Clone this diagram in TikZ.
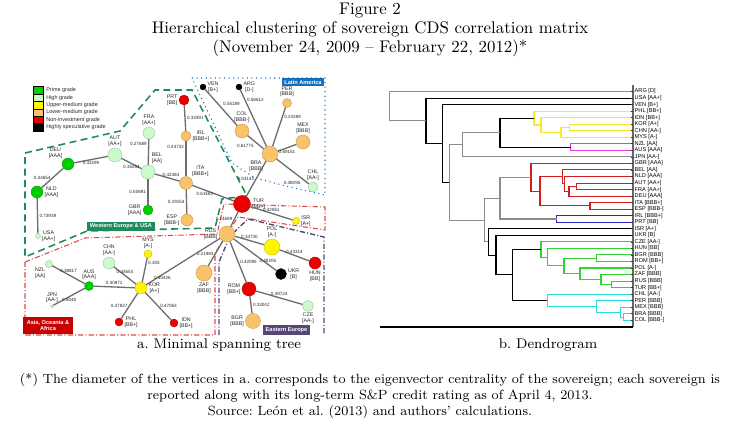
\documentclass[tikz,border=0pt]{standalone}
\usepackage{fontspec}
\setsansfont{Liberation Sans}
\usepackage{tikz}
\usetikzlibrary{positioning}
\frenchspacing

\definecolor{primeg}{RGB}{0,205,0}
\definecolor{highg}{RGB}{205,250,205}
\definecolor{upperg}{RGB}{255,245,0}
\definecolor{lowerg}{RGB}{250,195,105}
\definecolor{noninv}{RGB}{235,0,0}
\definecolor{specg}{RGB}{0,0,0}
\definecolor{edgegray}{RGB}{110,110,110}
\definecolor{weframe}{RGB}{30,140,90}
\definecolor{lablue}{RGB}{20,110,190}
\definecolor{aoared}{RGB}{200,0,0}
\definecolor{eepurple}{RGB}{85,70,120}
\definecolor{dgray}{RGB}{140,140,140}
\definecolor{dyel}{RGB}{245,235,40}
\definecolor{dmag}{RGB}{225,60,225}
\definecolor{dred}{RGB}{210,30,30}
\definecolor{dblue}{RGB}{40,40,190}
\definecolor{dgreen}{RGB}{50,210,50}
\definecolor{dcyan}{RGB}{40,220,220}

% name over rating
\newcommand{\cds}[2]{#1\\\relax[#2]}

\tikzset{
  vtx/.style 2 args={circle, inner sep=0pt, fill=#1, draw=#1!75!black, line width=0.2pt, minimum size=#2*0.2mm},
  nlbl/.style={font=\sffamily\fontsize{3}{3.3}\selectfont, align=center, inner sep=0.6pt, text=black!85},
  elab/.style={font=\sffamily\fontsize{2.6}{3}\selectfont, inner sep=0.8pt, text=black!85},
  edg/.style={draw=edgegray, line width=0.75pt},
  regbox/.style={font=\sffamily\bfseries\fontsize{3.2}{3.6}\selectfont, text=white, inner sep=0pt, align=center},
  legsq/.style={draw=black, line width=0.2pt, minimum width=2mm, minimum height=1.48mm, inner sep=0pt},
  legtx/.style={font=\sffamily\fontsize{3.1}{3.5}\selectfont, inner sep=0pt, text=black!85},
  dlin/.style={line width=0.6pt},
  leaf/.style={font=\sffamily\fontsize{3.2}{3.5}\selectfont, anchor=west, inner sep=0.5pt},
  ttl/.style={font=\fontsize{9.6}{11.5}\selectfont},
  note/.style={font=\fontsize{7.6}{9.5}\selectfont}
}

\begin{document}
\begin{tikzpicture}[x=0.02cm, y=-0.02cm]
\useasboundingbox (0,0) rectangle (740,444);

% titles
\node[ttl] (fig) at (370,10) {Figure 2};
\node[ttl] (t1) at (370,29) {Hierarchical clustering of sovereign CDS correlation matrix};
\node[ttl] (t2) at (370,48) {(November 24, 2009 -- February 22, 2012)*};

% regions
\draw[weframe, line width=0.9pt, dash pattern=on 4pt off 2.5pt]
  (25,153) -- (120,131) -- (155,90) -- (192,90) -- (247,196) -- (222,199)
  -- (215,228) -- (87,231) -- (25,257) -- cycle;
\draw[lablue, line width=0.6pt, dotted]
  (192,78) -- (325,78) -- (325,195) -- (290,187) -- (255,178) -- (232,163) -- cycle;
\draw[aoared!70, line width=0.6pt, dash pattern=on 3pt off 1.2pt on 0.6pt off 1.2pt]
  (25,262) -- (85,238) -- (217,234) -- (224,204) -- (325,207) -- (325,230)
  -- (238,217) -- (215,253) -- (215,335) -- (25,335) -- cycle;
\draw[eepurple, line width=0.8pt, dash pattern=on 3pt off 1.2pt on 0.6pt off 1.2pt]
  (219,335) -- (219,262) -- (230,236) -- (248,219) -- (324,237) -- (324,335);

% legend
\foreach \c/\t [count=\i] in {primeg/Prime grade, highg/High grade, upperg/Upper-medium grade,
    lowerg/Lower-medium grade, noninv/Non-investment grade, specg/Highly speculative grade}{
  \node[legsq, fill=\c] (sq\i) at (38,82.8+7.4*\i) {};
  \node[legtx, anchor=west] (lt\i) at (46,82.8+7.4*\i) {\t};
}

% vertices
\node[vtx={noninv}{10}, label={[nlbl]left:{\cds{PRT}{BB}}}] (PRT) at (184,100) {};
\node[vtx={lowerg}{10}, label={[nlbl]right:{\cds{IRL}{BBB+}}}] (IRL) at (186,136) {};
\node[vtx={highg}{12}, label={[nlbl]above:{\cds{FRA}{AA+}}}] (FRA) at (149,133) {};
\node[vtx={highg}{14}, label={[nlbl]above:{\cds{AUT}{AA+}}}] (AUT) at (115,155) {};
\node[vtx={primeg}{12}, label={[nlbl]above left:{\cds{DEU}{AAA}}}] (DEU) at (68,164) {};
\node[vtx={primeg}{12}, label={[nlbl]right:{\cds{NLD}{AAA}}}] (NLD) at (37,192) {};
\node[vtx={highg}{5}, label={[nlbl]right:{\cds{USA}{AA+}}}] (USA) at (38,236) {};
\node[vtx={highg}{14}, label={[nlbl]70:{\cds{BEL}{AA}}}] (BEL) at (148,172) {};
\node[vtx={primeg}{10}, label={[nlbl]left:{\cds{GBR}{AAA}}}] (GBR) at (148,210) {};
\node[vtx={lowerg}{13}, label={[nlbl]above right:{\cds{ITA}{BBB+}}}] (ITA) at (186,183) {};
\node[vtx={lowerg}{12}, label={[nlbl]left:{\cds{ESP}{BBB-}}}] (ESP) at (187,220) {};

\node[vtx={specg}{6}, label={[nlbl]right:{\cds{VEN}{B+}}}] (VEN) at (203,87) {};
\node[vtx={specg}{6}, label={[nlbl]right:{\cds{ARG}{D-}}}] (ARG) at (239,87) {};
\node[vtx={lowerg}{9}, label={[nlbl]above:{\cds{PER}{BBB}}}] (PER) at (287,103) {};
\node[vtx={lowerg}{14}, label={[nlbl]above:{\cds{COL}{BBB-}}}] (COL) at (242,131) {};
\node[vtx={lowerg}{14}, label={[nlbl]above:{\cds{MEX}{BBB}}}] (MEX) at (303,142) {};
\node[vtx={lowerg}{16}, label={[nlbl]below left:{\cds{BRA}{BBB}}}] (BRA) at (270,154) {};
\node[vtx={highg}{10}, label={[nlbl]above:{\cds{CHL}{AA-}}}] (CHL) at (313,187) {};

\node[vtx={noninv}{17}, label={[nlbl]right:{\cds{TUR}{BB+}}}] (TUR) at (242,204) {};
\node[vtx={upperg}{7}, label={[nlbl]right:{\cds{ISR}{A+}}}] (ISR) at (296,221) {};
\node[vtx={lowerg}{16}, label={[nlbl]left:{\cds{RUS}{BBB}}}] (RUS) at (227,234) {};
\node[vtx={upperg}{16}, label={[nlbl]above:{\cds{POL}{A-}}}] (POL) at (272,247) {};
\node[vtx={noninv}{12}, label={[nlbl]below:{\cds{HUN}{BB}}}] (HUN) at (315,263) {};
\node[vtx={specg}{11}, label={[nlbl]right:{\cds{UKR}{B}}}] (UKR) at (281,274) {};
\node[vtx={lowerg}{16}, label={[nlbl]below:{\cds{ZAF}{BBB}}}] (ZAF) at (204,273) {};
\node[vtx={noninv}{14}, label={[nlbl]left:{\cds{ROM}{BB+}}}] (ROM) at (249,289) {};
\node[vtx={lowerg}{15}, label={[nlbl]left:{\cds{BGR}{BBB}}}] (BGR) at (253,321) {};
\node[vtx={highg}{11}, label={[nlbl]below:{\cds{CZE}{AA-}}}] (CZE) at (308,306) {};

\node[vtx={highg}{7}, label={[nlbl]below left:{\cds{NZL}{AA}}}] (NZL) at (49,264) {};
\node[vtx={primeg}{9}, label={[nlbl]above:{\cds{AUS}{AAA}}}] (AUS) at (89,286) {};
\node[vtx={highg}{3}, label={[nlbl]above:{\cds{JPN}{AA-}}}] (JPN) at (52,306) {};
\node[vtx={highg}{12}, label={[nlbl]above:{\cds{CHN}{AA-}}}] (CHN) at (109,263) {};
\node[vtx={upperg}{8}, label={[nlbl]above:{\cds{MYS}{A-}}}] (MYS) at (148,254) {};
\node[vtx={upperg}{12}, label={[nlbl]right:{\cds{KOR}{A+}}}] (KOR) at (141,288) {};
\node[vtx={noninv}{8}, label={[nlbl]right:{\cds{PHL}{BB+}}}] (PHL) at (119,322) {};
\node[vtx={noninv}{8}, label={[nlbl]right:{\cds{IDN}{BB+}}}] (IDN) at (174,323) {};

% edges
\draw[edg] (PRT) -- node[elab,right] {0.33391} (IRL);
\draw[edg] (IRL) -- node[elab,pos=0.17,left] {0.44732} (ITA);
\draw[edg] (FRA) -- node[elab,pos=0.2,left] {0.27689} (BEL);
\draw[edg] (AUT) -- node[elab,below] {0.35254} (BEL);
\draw[edg] (DEU) -- node[elab,below] {0.43299} (AUT);
\draw[edg] (DEU) -- node[elab,left] {0.44654} (NLD);
\draw[edg] (NLD) -- node[elab,right] {0.73939} (USA);
\draw[edg] (BEL) -- node[elab,left] {0.50691} (GBR);
\draw[edg] (BEL) -- node[elab,pos=0.65,above] {0.42384} (ITA);
\draw[edg] (ITA) -- node[elab,left] {0.29154} (ESP);
\draw[edg] (ITA) -- node[elab,pos=0.3,below] {0.61163} (TUR);
\draw[edg] (TUR) -- node[elab,left] {0.53142} (BRA);
\draw[edg] (BRA) -- node[elab,below left] {0.61775} (COL);
\draw[edg] (COL) -- node[elab,above right] {0.55189} (VEN);
\draw[edg] (BRA) -- node[elab,pos=0.82,right] {0.58612} (ARG);
\draw[edg] (BRA) -- node[elab,pos=0.75,right] {0.24389} (PER);
\draw[edg] (BRA) -- node[elab,below] {0.69151} (MEX);
\draw[edg] (BRA) -- node[elab,pos=0.8,below left] {0.48095} (CHL);
\draw[edg] (TUR) -- node[elab,above] {0.42851} (ISR);
\draw[edg] (TUR) -- node[elab,left] {0.14699} (RUS);
\draw[edg] (RUS) -- node[elab,above] {0.34730} (POL);
\draw[edg] (POL) -- node[elab,above] {0.43314} (HUN);
\draw[edg] (RUS) -- node[elab,pos=0.8,above] {0.48205} (UKR);
\draw[edg] (RUS) -- node[elab,right] {0.42095} (ROM);
\draw[edg] (ROM) -- node[elab,above] {0.49724} (CZE);
\draw[edg] (ROM) -- node[elab,right] {0.33042} (BGR);
\draw[edg] (RUS) -- node[elab,left] {0.21983} (ZAF);
\draw[edg] (RUS) -- node[elab,pos=0.78,below] {0.40426} (KOR);
\draw[edg] (KOR) -- node[elab,pos=0.8,right] {0.305} (MYS);
\draw[edg] (KOR) -- node[elab,above] {0.34653} (CHN);
\draw[edg] (KOR) -- node[elab,above] {0.40871} (AUS);
\draw[edg] (AUS) -- node[elab,above] {0.38817} (NZL);
\draw[edg] (AUS) -- node[elab,below] {0.8048} (JPN);
\draw[edg] (KOR) -- node[elab,left] {0.47827} (PHL);
\draw[edg] (KOR) -- node[elab,right] {0.47063} (IDN);

% region labels
\node[regbox, fill=lablue, minimum width=0.84cm, minimum height=0.17cm] (latam) at (303,82) {Latin America};
\node[regbox, fill=weframe, minimum width=1.36cm, minimum height=0.19cm] (weusa) at (121,226.5) {Western Europe \& USA};
\node[regbox, fill=aoared, minimum width=1cm, minimum height=0.34cm] (aoa) at (48,325.5) {Asia, Oceania \&\\Africa};
\node[regbox, fill=eepurple, minimum width=0.94cm, minimum height=0.2cm] (eeur) at (286.5,330) {Eastern Europe};

% dendrogram
\foreach \c/\xa/\ya/\xm/\xb/\yb in {
  dyel/633/124.19/569.3/633/130.72, dyel/569.3/127.46/561/633/137.26,
  dyel/633/117.65/541/561/132.36, dyel/633/111.11/534/541/125.0,
  dmag/633/143.80/570.7/633/150.33, black/534/118.06/500/570.7/147.07,
  dgray/500/132.56/462.3/633/156.87,
  dred/633/183.02/576.7/633/189.56, dred/576.7/186.29/569/633/196.09,
  dred/633/176.48/564.3/569/191.19, dred/633/169.94/562.7/564.3/183.84,
  dred/633/202.63/590/633/209.17, dred/562.7/176.89/540/590/205.9,
  dred/633/163.41/531/540/191.40,
  dblue/633/215.70/556.7/633/222.24, dgray/531/177.40/500/556.7/218.97,
  dgreen/633/281.07/611.7/633/287.61, dgreen/611.7/284.34/601/633/274.54,
  dgreen/633/268.00/580/601/279.44, dgreen/633/254.93/596.7/633/261.46,
  dgreen/596.7/258.20/564/580/273.72, dgreen/633/248.39/547.3/564/265.96,
  dgreen/633/241.85/541/547.3/257.18,
  dcyan/633/313.76/623.3/633/320.30, dcyan/633/307.22/620.7/623.3/317.03,
  dcyan/633/300.69/596.7/620.7/312.13, dcyan/633/294.15/547.3/596.7/306.41,
  black/541/249.52/512.3/547.3/300.28, black/633/235.31/496/512.3/274.90,
  black/633/228.78/488.3/496/255.11, dgray/500/198.19/484.3/488.3/241.95,
  dgray/462.3/144.72/449.3/484.3/220.07, black/633/104.57/442.3/449.3/182.40,
  black/633/98.04/426/442.3/143.49, dgray/633/91.5/389.3/426/120.77}{
  \draw[dlin, \c] (\xa,\ya) -| (\xm,\yb) -- (\xb,\yb);
}
\draw[dlin, black!60] (633,85) -- (633,327);
\draw[dlin, black] (380,327) -- (633,327);
\foreach \n [count=\i from 0] in {ARG [D], USA [AA+], VEN [B+], PHL [BB+], IDN [BB+], KOR [A+],
    CHN [AA-], MYS [A-], NZL [AA], AUS [AAA], JPN [AA-], GBR [AAA], BEL [AA], NLD [AAA],
    AUT [AA+], FRA [AA+], DEU [AAA], ITA [BBB+], ESP [BBB-], IRL [BBB+], PRT [BB], ISR [A+],
    UKR [B], CZE [AA-], HUN [BB], BGR [BBB], ROM [BB+], POL [A-], ZAF [BBB], RUS [BBB],
    TUR [BB+], CHL [AA-], PER [BBB], MEX [BBB], BRA [BBB], COL [BBB-]}{
  \draw[black!80, line width=0.4pt] (630.5,91.5+6.537*\i) -- (633,91.5+6.537*\i);
  \node[leaf] (l\i) at (633.5,91.5+6.537*\i) {\n};
}

% captions and notes
\node[note, font=\fontsize{8}{10}\selectfont] (capa) at (219,345) {a. Minimal spanning tree};
\node[note, font=\fontsize{8}{10}\selectfont] (capb) at (548,345) {b. Dendrogram};
\node[note] (n1) at (370,380) {(*) The diameter of the vertices in a. corresponds to the eigenvector centrality of the sovereign; each sovereign is};
\node[note] (n2) at (370,396) {reported along with its long-term S\&P credit rating as of April 4, 2013.};
\node[note] (n3) at (370,412) {Source: León et al. (2013) and authors' calculations.};
\end{tikzpicture}
\end{document}
